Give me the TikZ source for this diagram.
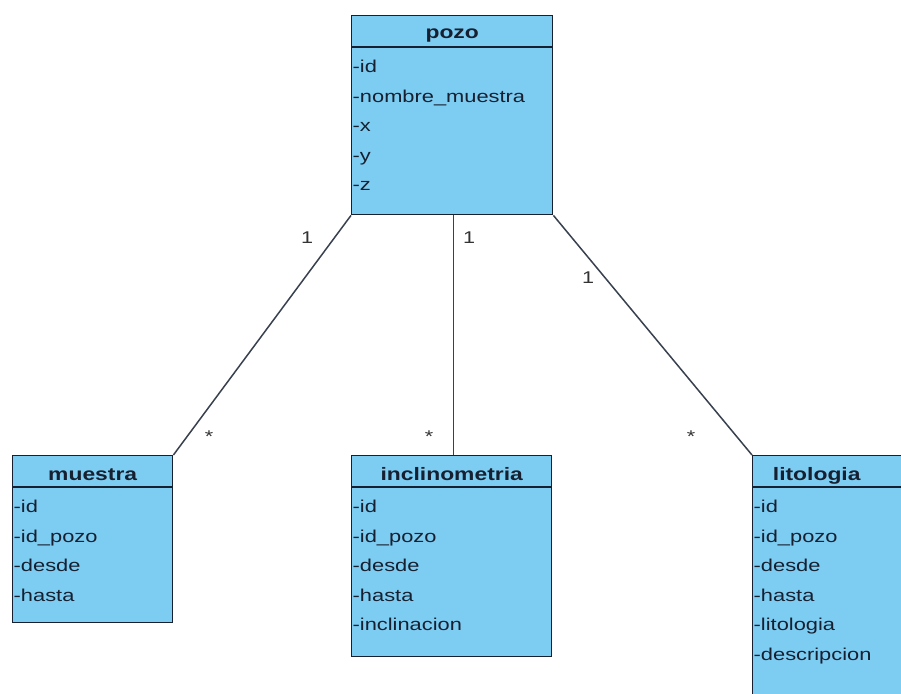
\documentclass[tikz,border=0pt]{standalone}
\usepackage{fontspec}
\newfontfamily\umlfont[FakeStretch=1.27]{Liberation Sans}
\usetikzlibrary{positioning}
\definecolor{classfill}{RGB}{125,205,243}
\definecolor{classline}{RGB}{22,32,48}

\tikzset{
  classbox/.style={draw=classline, fill=classfill, line width=1.4pt, anchor=north west, inner sep=0pt},
  classname/.style={font=\umlfont\bfseries\fontsize{18}{18}\selectfont, text=classline, inner sep=0pt, anchor=base},
  attr/.style={font=\umlfont\fontsize{17.2}{17}\selectfont, text=classline, inner sep=0pt, anchor=base west},
  mult/.style={font=\umlfont\fontsize{17}{17}\selectfont, text=black!80, inner sep=0pt, anchor=base},
  assoc/.style={draw=classline!85, line width=1.5pt},
}

\begin{document}
\begin{tikzpicture}[x=1pt,y=-1pt]
\useasboundingbox (0,0) rectangle (901,693);
\clip (0,0) rectangle (901,693);
\fill[white] (0,0) rectangle (901,693);

% class boxes
\node[classbox, minimum width=201pt, minimum height=199pt] (pozo) at (351,15) {};
\node[classbox, minimum width=160pt, minimum height=167pt] (muestra) at (12,455) {};
\node[classbox, minimum width=200pt, minimum height=201pt] (inclinometria) at (351,455) {};
\node[classbox, minimum width=160pt, minimum height=250pt] (litologia) at (752,455) {};

% header lines
\foreach \c in {pozo,muestra,inclinometria,litologia}
  \draw[classline, line width=1.4pt] ([yshift=-32pt]\c.north west) -- ([yshift=-32pt]\c.north east);

% class names
\node[classname] (pozo-name) at ([yshift=-23pt]pozo.north) {pozo};
\node[classname] (muestra-name) at ([yshift=-25pt]muestra.north) {muestra};
\node[classname] (inclinometria-name) at ([yshift=-25pt]inclinometria.north) {inclinometria};
\node[classname] (litologia-name) at ([yshift=-25pt,xshift=-16pt]litologia.north) {litologia};

% attributes
\foreach \a [count=\i] in {-id,-nombre\_muestra,-x,-y,-z}
  \node[attr] (pozo-\i) at ([xshift=1.5pt,yshift={-57.5pt-29.5pt*(\i-1)}]pozo.north west) {\a};
\foreach \a [count=\i] in {-id,-id\_pozo,-desde,-hasta}
  \node[attr] (muestra-\i) at ([xshift=1.5pt,yshift={-57.5pt-29.5pt*(\i-1)}]muestra.north west) {\a};
\foreach \a [count=\i] in {-id,-id\_pozo,-desde,-hasta,-inclinacion}
  \node[attr] (inclinometria-\i) at ([xshift=1.5pt,yshift={-57.5pt-29.5pt*(\i-1)}]inclinometria.north west) {\a};
\foreach \a [count=\i] in {-id,-id\_pozo,-desde,-hasta,-litologia,-descripcion}
  \node[attr] (litologia-\i) at ([xshift=1.5pt,yshift={-57.5pt-29.5pt*(\i-1)}]litologia.north west) {\a};

% associations
\draw[assoc] (pozo.south west) -- (muestra.north east);
\draw[assoc] ([xshift=1.5pt]pozo.south) -- ([xshift=2pt]inclinometria.north);
\draw[assoc] (pozo.south east) -- (litologia.north west);

% multiplicities
\node[mult] (m-pm) at (307,243) {1};
\node[mult] (m-pi) at (469,243) {1};
\node[mult] (m-pl) at (588,283) {1};
\node[mult] (m-m) at (209,442) {*};
\node[mult] (m-i) at (429,442) {*};
\node[mult] (m-l) at (691,442) {*};
\end{tikzpicture}
\end{document}
